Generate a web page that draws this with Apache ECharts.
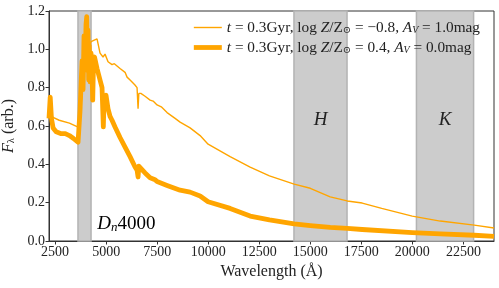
<!DOCTYPE html>
<html><head><meta charset="utf-8">
<script src="https://cdn.jsdelivr.net/npm/echarts@6/dist/echarts.min.js"></script>
<style>html,body{margin:0;padding:0;background:#fff}#c{width:499px;height:288px}</style>
</head><body><div id="c"></div>
<script>
// Series 1: t=0.3Gyr, logZ=-0.8, Av=1.0 (thin)
const lamThin = [2200,2250,2300,2400,2700,3200,3600,3700,3800,3900,4000,4100,4200,4259,4350,4553,4700,4847,4870,4945,5092,5288,5400,5680,5926,6000,6024,6171,6400,6514,6563,6600,6700,6906,7151,7300,7396,7494,7700,7984,8377,8622,9112,9602,9994,11073,12053,13000,14210,15000,15975,16808,17543,18500,19994,21367,23033,24000];
const fluxThin = [0.64,0.72,0.66,0.645,0.63,0.615,0.595,0.62,0.75,0.90,0.98,0.95,1.02,1.04,1.05,1.055,0.98,0.96,0.95,0.975,0.935,0.92,0.925,0.90,0.88,0.87,0.855,0.84,0.815,0.80,0.69,0.77,0.77,0.755,0.735,0.73,0.72,0.71,0.70,0.67,0.64,0.62,0.59,0.55,0.505,0.44,0.386,0.34,0.297,0.275,0.23,0.209,0.198,0.17,0.13,0.104,0.083,0.068];
// Series 2: t=0.3Gyr, logZ=0.4, Av=0.0 (thick)
const lamThick = [2200,2260,2320,2400,2550,2800,3000,3200,3400,3622,3720,3818,3867,3916,3965,4014,4048,4077,4112,4146,4175,4210,4259,4308,4342,4381,4430,4553,4700,4798,4862,4896,4994,5092,5190,5288,5435,5680,5926,6171,6416,6514,6563,6600,6661,6906,7151,7396,7494,7984,8622,9112,9602,9994,11073,12053,13000,14210,15000,15975,16808,17543,19994,21367,23033,24000];
const fluxThick = [0.64,0.75,0.64,0.59,0.57,0.56,0.56,0.55,0.535,0.515,0.68,0.94,0.79,1.07,0.89,1.13,1.17,0.94,1.10,0.84,1.02,0.83,0.98,0.87,0.735,0.94,0.96,0.90,0.84,0.80,0.595,0.735,0.76,0.69,0.65,0.63,0.595,0.54,0.49,0.44,0.386,0.37,0.334,0.39,0.386,0.355,0.33,0.32,0.31,0.29,0.265,0.255,0.235,0.205,0.17,0.13,0.11,0.089,0.08,0.071,0.066,0.06,0.044,0.037,0.03,0.024];
const seriesNames = ['thin','thick'];
const xTicks = [2500,5000,7500,10000,12500,15000,17500,20000,22500];
const bandStart = [3620,14200,20200];
const bandEnd = [4260,16800,23000];
const bandLabel = ['','H','K'];

const serif = "'Liberation Serif', 'DejaVu Serif', serif";
const LF = 15.3;
const rich = {
  i:{fontFamily:serif,fontStyle:'italic',fontSize:LF,color:'#222'},
  n:{fontFamily:serif,fontSize:LF,color:'#222'},
  s:{fontFamily:serif,fontSize:10,color:'#222',verticalAlign:'bottom',lineHeight:8,padding:[7,0,0,0]},
  si:{fontFamily:serif,fontStyle:'italic',fontSize:10,color:'#222',verticalAlign:'bottom',lineHeight:8,padding:[7,0,0,0]}
};
const legendText = {
  thin:'{i|t}{n| = 0.3Gyr, log }{i|Z}{n|/Z}{s|⊙}{n| = −0.8, }{i|A}{si|V}{n| = 1.0mag}',
  thick:'{i|t}{n| = 0.3Gyr, log }{i|Z}{n|/Z}{s|⊙}{n| = 0.4, }{i|A}{si|V}{n| = 0.0mag}'
};
const lineWidths = {thin:1.4, thick:4.8};
const pairs = (a,b)=>a.map((v,i)=>[v,b[i]]);
const chart = echarts.init(document.getElementById('c'),null,{renderer:'canvas'});
const axisCol = '#333';
chart.setOption({
  animation:false,
  backgroundColor:'#fff',
  grid:{left:49,right:5,top:11,bottom:47,show:true,borderColor:axisCol,borderWidth:1,backgroundColor:'transparent',outerBoundsMode:'none',containLabel:false},
  legend:{
    orient:'vertical',right:14,top:13,itemWidth:28,itemHeight:14,itemGap:3,align:'left',
    data:seriesNames.map(n=>({name:n,lineStyle:{width:lineWidths[n],color:'#FFA500'}})),
    formatter:n=>legendText[n],
    itemStyle:{color:'rgba(0,0,0,0)',borderWidth:0},
    textStyle:{fontFamily:serif,fontSize:LF,color:'#222',rich:rich}
  },
  xAxis:{
    type:'value',min:2200,max:24000,
    name:'Wavelength (Å)',nameLocation:'middle',nameGap:20,
    nameTextStyle:{fontFamily:serif,fontSize:16,color:'#222'},
    axisLine:{show:true,lineStyle:{color:axisCol}},
    axisTick:{show:true,length:3.5,customValues:xTicks,lineStyle:{color:axisCol}},
    axisLabel:{customValues:xTicks,fontFamily:serif,fontSize:14,color:'#222',margin:4,formatter:v=>String(v)},
    splitLine:{show:false}
  },
  yAxis:{
    type:'value',min:0,max:1.2,interval:0.2,
    name:'{i|F}{s|λ}{n| (arb.)}',nameLocation:'middle',nameGap:17,nameRotate:90,
    nameTextStyle:{fontFamily:serif,fontSize:16,color:'#222',rich:{
      i:{fontFamily:serif,fontStyle:'italic',fontSize:16,color:'#222'},
      n:{fontFamily:serif,fontSize:16,color:'#222'},
      s:{fontFamily:serif,fontSize:10.5,color:'#222',verticalAlign:'bottom',lineHeight:9,padding:[7,0,0,0]}
    }},
    axisLine:{show:true,lineStyle:{color:axisCol}},
    axisTick:{show:true,length:3.5,lineStyle:{color:axisCol}},
    axisLabel:{fontFamily:serif,fontSize:14,color:'#222',margin:4,formatter:v=>v.toFixed(1)},
    splitLine:{show:false}
  },
  series:[
    {
      name:'thin',type:'line',data:pairs(lamThin,fluxThin),symbol:'none',z:3,
      lineStyle:{color:'#FFA500',width:lineWidths.thin},itemStyle:{color:'#FFA500'},
      markArea:{
        silent:true,
        itemStyle:{color:'#cccccc',borderColor:'#b3b3b3',borderWidth:1.5},
        label:{position:'inside',fontFamily:serif,fontStyle:'italic',fontSize:19,color:'#222',offset:[0,-6]},
        data:bandStart.map((s,i)=>[{xAxis:s,name:bandLabel[i]},{xAxis:bandEnd[i]}])
      }
    },
    {
      name:'thick',type:'line',data:pairs(lamThick,fluxThick),symbol:'none',z:4,
      lineStyle:{color:'#FFA500',width:lineWidths.thick,join:'round'},itemStyle:{color:'#FFA500'}
    }
  ]
});
const p = chart.convertToPixel({gridIndex:0},[4560,0.1]);
chart.setOption({graphic:[{
  type:'text',left:p[0],top:p[1]-9,z:10,
  style:{text:'{i|D}{s|n}{n|4000}',rich:{
    i:{fontFamily:serif,fontStyle:'italic',fontSize:19,color:'#222'},
    n:{fontFamily:serif,fontSize:19,color:'#222'},
    s:{fontFamily:serif,fontStyle:'italic',fontSize:13,color:'#222',verticalAlign:'bottom',lineHeight:10,padding:[8,0,0,0]}
  }}
}]});
</script></body></html>
